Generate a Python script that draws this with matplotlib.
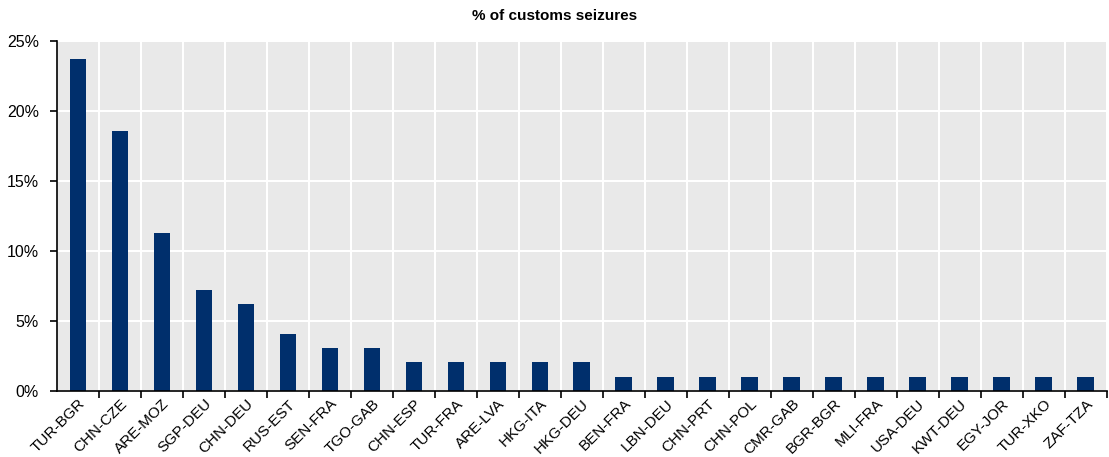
import matplotlib.pyplot as plt
import numpy as np

plt.rcParams['font.family'] = ['Liberation Sans', 'DejaVu Sans']

# routes and share of customs seizures (%)
routes = ["TUR-BGR", "CHN-CZE", "ARE-MOZ", "SGP-DEU", "CHN-DEU", "RUS-EST",
          "SEN-FRA", "TGO-GAB", "CHN-ESP", "TUR-FRA", "ARE-LVA", "HKG-ITA",
          "HKG-DEU", "BEN-FRA", "LBN-DEU", "CHN-PRT", "CHN-POL", "CMR-GAB",
          "BGR-BGR", "MLI-FRA", "USA-DEU", "KWT-DEU", "EGY-JOR", "TUR-XKO",
          "ZAF-TZA"]
share = [23.7, 18.6, 11.3, 7.2, 6.2, 4.1,
         3.1, 3.1, 2.1, 2.1, 2.1, 2.1,
         2.1, 1.0, 1.0, 1.0, 1.0, 1.0,
         1.0, 1.0, 1.0, 1.0, 1.0, 1.0,
         1.0]
yticks = [0, 5, 10, 15, 20, 25]

fig = plt.figure(figsize=(11.09, 4.57), dpi=100)
ax = fig.add_axes([0.0514, 0.1444, 0.9466, 0.7659])
ax.set_facecolor('#e9e9e9')

x = np.arange(len(routes))
ax.bar(x, share, width=0.4, color='#002f6c', zorder=3)

ax.set_xlim(-0.5, len(routes) - 0.5)
ax.set_ylim(0, 25)

# labels at centres, ticks + grid at boundaries
ax.set_xticks(x)
ax.set_xticklabels(routes, rotation=45, ha='right', rotation_mode='anchor', fontsize=11)
ax.set_xticks(np.arange(len(routes)) + 0.5, minor=True)
ax.tick_params(axis='x', which='major', length=0, pad=4)
ax.tick_params(axis='x', which='minor', length=5, width=1.2, direction='out', color='black')

ax.set_yticks(yticks)
ax.set_yticklabels([f"{t}%" for t in yticks], fontsize=11.5)
ax.tick_params(axis='y', length=5, width=1.2, direction='out', pad=8)

ax.grid(axis='y', which='major', color='white', linewidth=1.5, zorder=0)
ax.grid(axis='x', which='minor', color='white', linewidth=1.5, zorder=0)
ax.grid(axis='x', which='major', visible=False)

for s in ['top', 'right']:
    ax.spines[s].set_visible(False)
for s in ['left', 'bottom']:
    ax.spines[s].set_linewidth(1.2)
    ax.spines[s].set_zorder(4)

fig.text(0.5, 0.965, "% of customs seizures", ha='center', va='center',
         fontsize=11, fontweight='bold')

fig.savefig("out.png", dpi=100)
